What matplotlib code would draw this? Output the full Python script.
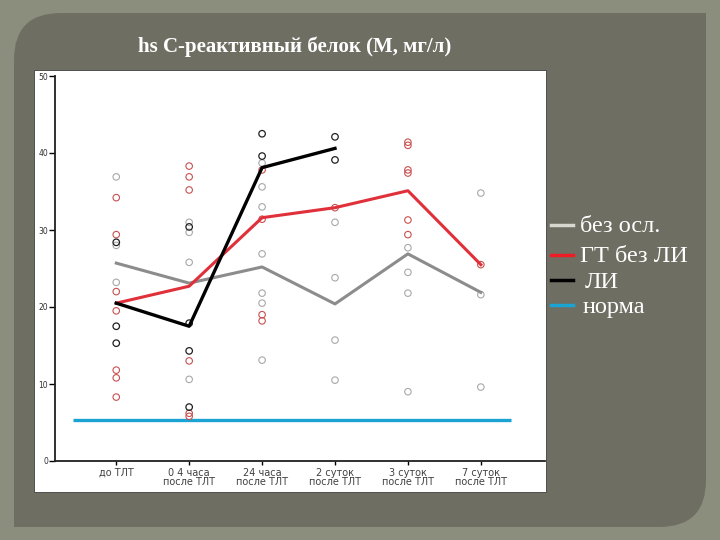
import matplotlib.pyplot as plt
from matplotlib.patches import FancyBboxPatch, Rectangle

# categories on x axis
categories = ['до ТЛТ', '0 4 часа\nпосле ТЛТ', '24 часа\nпосле ТЛТ',
              '2 суток\nпосле ТЛТ', '3 суток\nпосле ТЛТ', '7 суток\nпосле ТЛТ']

# medians (lines)
bez_osl = [25.7, 23.1, 25.2, 20.4, 26.9, 21.9]
gt_bez_li = [20.5, 22.7, 31.6, 32.9, 35.1, 25.5]
li = [20.5, 17.5, 38.1, 40.6]
norma = 5.3

# individual points (category index, value)
pts_gray_x = [0, 0, 0, 1, 1, 1, 1, 2, 2, 2, 2, 2, 2, 2, 3, 3, 3, 3, 4, 4, 4, 4, 5, 5, 5]
pts_gray_y = [36.9, 28.0, 23.2, 31.0, 29.7, 25.8, 10.6, 38.7, 35.6, 33.0, 26.9, 21.8, 20.5, 13.1,
              31.0, 23.8, 15.7, 10.5, 27.7, 24.5, 21.8, 9.0, 34.8, 21.6, 9.6]
pts_red_x = [0, 0, 0, 0, 0, 0, 0, 1, 1, 1, 1, 1, 1, 2, 2, 2, 2, 3, 4, 4, 4, 4, 4, 4, 5]
pts_red_y = [34.2, 29.4, 22.0, 19.5, 11.8, 10.8, 8.3, 38.3, 36.9, 35.2, 13.0, 6.2, 5.8,
             37.8, 31.4, 19.0, 18.2, 32.9, 41.4, 41.0, 37.8, 37.4, 31.3, 29.4, 25.5]
pts_black_x = [0, 0, 0, 1, 1, 1, 1, 2, 2, 3, 3]
pts_black_y = [28.4, 17.5, 15.3, 30.4, 17.9, 14.3, 7.0, 42.5, 39.6, 42.1, 39.1]

legend_labels = ['без осл.', 'ГТ без ЛИ', 'ЛИ', 'норма']

fig = plt.figure(figsize=(7.2, 5.4), dpi=100)
fig.patch.set_facecolor('#8c8e7d')

# slide panel with rounded top-left / bottom-right corners
W, H = 720, 540
panel_col = '#6e6f62'
fig.patches.append(FancyBboxPatch((14 / W, 13 / H), 692 / W, 514 / H,
                                  boxstyle='round,pad=0,rounding_size=0.065',
                                  transform=fig.transFigure, facecolor=panel_col,
                                  edgecolor='none', mutation_aspect=W / H))
fig.patches.append(Rectangle((0.5, 0.5), (706 - 360) / W, (527 - 270) / H,
                             transform=fig.transFigure, facecolor=panel_col, edgecolor='none'))
fig.patches.append(Rectangle((14 / W, 13 / H), 0.45, 0.45,
                             transform=fig.transFigure, facecolor=panel_col, edgecolor='none'))
# white chart area
fig.patches.append(Rectangle((34 / W, (540 - 492) / H), (546 - 34) / W, (492 - 70) / H,
                             transform=fig.transFigure, facecolor='white',
                             edgecolor='#404040', linewidth=0.6))

fig.text(295 / W, 1 - 47 / H, 'hs С-реактивный белок (М, мг/л)', ha='center', va='center',
         color='white', fontsize=15, fontweight='bold', family='Liberation Serif')

ax = fig.add_axes([55 / W, (540 - 461) / H, (545 - 55) / W, (461 - 76) / H])
ax.set_zorder(5)
ax.set_facecolor('none')
x = list(range(len(categories)))

ax.plot([-0.59, 5.42], [norma, norma], color='#1ba3d3', lw=2.4, solid_capstyle='butt', zorder=2)

ax.scatter(pts_gray_x, pts_gray_y, s=22, facecolors='none', edgecolors='#a8a8a8', linewidths=0.8, zorder=3)
ax.scatter(pts_red_x, pts_red_y, s=22, facecolors='none', edgecolors='#c85050', linewidths=0.8, zorder=3)
ax.scatter(pts_black_x, pts_black_y, s=22, facecolors='none', edgecolors='#202020', linewidths=0.9, zorder=3)

ax.plot(x, bez_osl, color='#8c8c8c', lw=2.2, zorder=4)
ax.plot(x, gt_bez_li, color='#e0303a', lw=2.2, zorder=5)
ax.plot(x[:len(li)], li, color='black', lw=2.4, zorder=6)

ax.set_xlim(-0.84, 5.88)
ax.set_ylim(0, 50)
ax.set_yticks([0, 10, 20, 30, 40, 50])
ax.set_xticks(x)
ax.set_xticklabels(categories, fontsize=7, color='#404040', linespacing=0.9)
ax.tick_params(axis='y', labelsize=5.5, length=4, width=1, pad=1, labelcolor='#303030')
ax.tick_params(axis='x', length=3, width=1, pad=2)
for s in ['top', 'right']:
    ax.spines[s].set_visible(False)
for s in ['left', 'bottom']:
    ax.spines[s].set_linewidth(1.3)
    ax.spines[s].set_color('#202020')

# legend drawn on slide
leg_colors = ['#d8d8d0', '#ee1c25', 'black', '#1ba3d3']
leg_y = [225, 255, 280, 305]
leg_tx = [580, 580, 585, 583]
for lab, c, yy, tx in zip(legend_labels, leg_colors, leg_y, leg_tx):
    fig.lines.append(plt.Line2D([551 / W, 573 / W], [1 - yy / H, 1 - yy / H],
                                transform=fig.transFigure, color=c, lw=2.5))
    fig.text(tx / W, 1 - (yy + 2) / H, lab, color='white', fontsize=17.5,
             family='Liberation Serif', va='center', ha='left')

fig.savefig('out.png', dpi=100, facecolor=fig.get_facecolor())
